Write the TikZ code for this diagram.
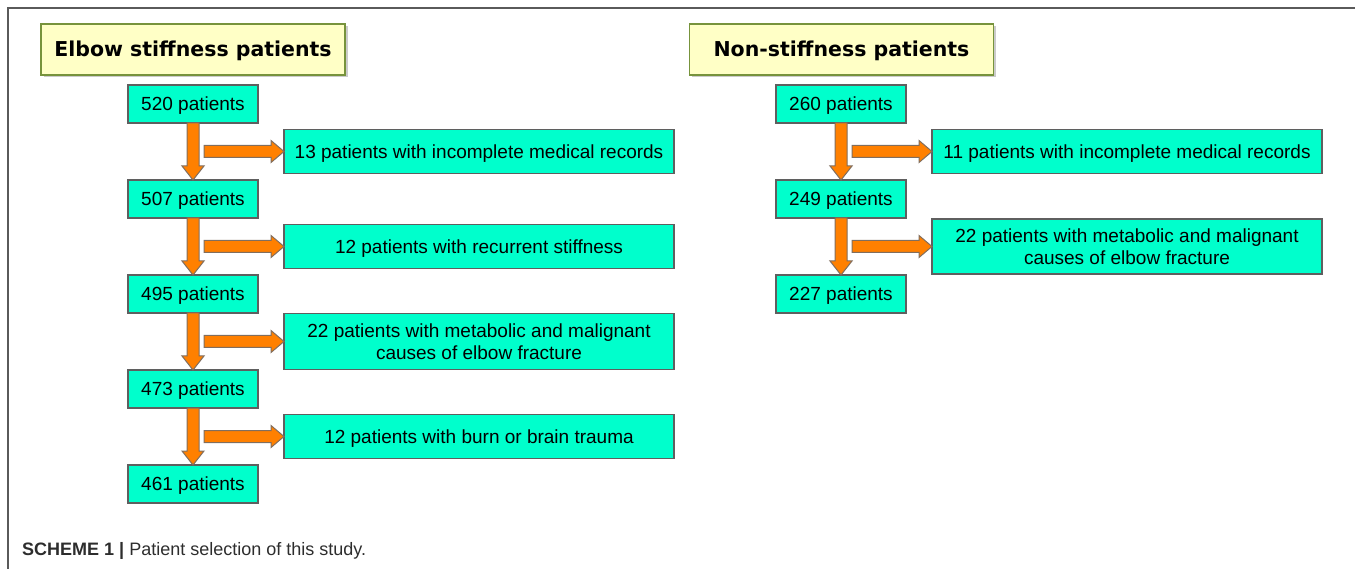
\documentclass[tikz,border=0pt]{standalone}
\usepackage{fontspec}
\setmainfont{Liberation Sans}
\newfontfamily\headfont{DejaVu Sans}
\usepackage{tikz}
\usetikzlibrary{positioning, calc, shadows}
\definecolor{boxfill}{RGB}{0,255,204}
\definecolor{boxedge}{RGB}{95,95,95}
\definecolor{headfill}{RGB}{255,255,198}
\definecolor{headedge}{RGB}{119,147,60}
\definecolor{arrowfill}{RGB}{255,128,0}
\definecolor{arrowedge}{RGB}{128,110,95}
\definecolor{framegray}{RGB}{90,90,90}
\definecolor{captiongray}{RGB}{45,45,45}

\begin{document}
\begin{tikzpicture}[x=1pt, y=-1pt, node distance=57pt,
  head/.style = {draw=headedge, fill=headfill, line width=1.2pt, minimum width=304pt, minimum height=51pt, outer sep=0pt,
    text height=15pt, text depth=0pt,
    drop shadow={shadow xshift=2.5pt, shadow yshift=-2.5pt, fill=black!45, opacity=0.45},
    font=\headfont\bfseries\fontsize{20.5}{24}\selectfont},
  count/.style = {draw=boxedge, fill=boxfill, line width=1.2pt, minimum width=130pt, minimum height=38pt, outer sep=0pt,
    text height=13.6pt, text depth=0pt, font=\fontsize{19}{22.5}\selectfont},
  excl/.style = {count, minimum width=390pt, minimum height=44pt, align=center},
  twoline/.style = {text height=36.1pt},
  downarrow/.style = {draw=arrowedge, fill=arrowfill, line width=1pt,
    to path={let \p1=(\tikztostart), \p2=(\tikztotarget) in
      (\x1-6pt,\y1) -- (\x1+6pt,\y1) -- (\x1+6pt,\y2+14pt) -- (\x1+11pt,\y2+14pt) -- (\x1,\y2)
      -- (\x1-11pt,\y2+14pt) -- (\x1-6pt,\y2+14pt) -- cycle}},
  sidearrow/.style = {draw=arrowedge, fill=arrowfill, line width=1pt,
    to path={let \p1=(\tikztostart), \p2=(\tikztotarget) in
      (\x1+11pt,\y2-6pt) -- (\x2-13pt,\y2-6pt) -- (\x2-13pt,\y2-11pt) -- (\x2,\y2) -- (\x2-13pt,\y2+11pt)
      -- (\x2-13pt,\y2+6pt) -- (\x1+11pt,\y2+6pt) -- cycle}}]
  \useasboundingbox (0,0) rectangle (1355,569);

  % Frame
  \draw[framegray, line width=1.5pt] (1355,8) -- (8,8) -- (8,569);

  % Headers
  \node[head] (hElbow) at (193,49.5) {Elbow stiffness patients};
  \node[head] (hNon) at (841.5,49.5) {Non-stiffness patients};

  % Elbow stiffness column
  \node[count] (e520) at (193,104) {520 patients};
  \node[count] (e507) [below=of e520] {507 patients};
  \node[count] (e495) [below=of e507] {495 patients};
  \node[count] (e473) [below=of e495] {473 patients};
  \node[count] (e461) [below=of e473] {461 patients};

  \node[excl] (eRecords) at ($(e520)!0.5!(e507)+(286,0)$) {13 patients with incomplete medical records};
  \node[excl] (eRecurrent) at ($(e507)!0.5!(e495)+(286,0)$) {12 patients with recurrent stiffness};
  \node[excl, twoline, minimum height=56pt] (eCauses) at ($(e495)!0.5!(e473)+(286,0)$) {22 patients with metabolic and malignant\\causes of elbow fracture};
  \node[excl] (eTrauma) at ($(e473)!0.5!(e461)+(286,0)$) {12 patients with burn or brain trauma};

  % Non-stiffness column
  \node[count] (n260) at (841,104) {260 patients};
  \node[count] (n249) [below=of n260] {249 patients};
  \node[count] (n227) [below=of n249] {227 patients};

  \node[excl] (nRecords) at ($(n260)!0.5!(n249)+(286,0)$) {11 patients with incomplete medical records};
  \node[excl, twoline, minimum height=55pt] (nCauses) at ($(n249)!0.5!(n227)+(286,0)$) {22 patients with metabolic and malignant\\causes of elbow fracture};

  % Arrows
  \draw[downarrow] (e520.south) to (e507.north);
  \draw[downarrow] (e507.south) to (e495.north);
  \draw[downarrow] (e495.south) to (e473.north);
  \draw[downarrow] (e473.south) to (e461.north);
  \draw[sidearrow] (e520.south) to (eRecords.west);
  \draw[sidearrow] (e507.south) to (eRecurrent.west);
  \draw[sidearrow] (e495.south) to (eCauses.west);
  \draw[sidearrow] (e473.south) to (eTrauma.west);

  \draw[downarrow] (n260.south) to (n249.north);
  \draw[downarrow] (n249.south) to (n227.north);
  \draw[sidearrow] (n260.south) to (nRecords.west);
  \draw[sidearrow] (n249.south) to (nCauses.west);

  % Caption
  \node[anchor=base west, inner sep=0pt, text=captiongray, font=\fontsize{18}{21}\selectfont] (caption) at (22,555)
    {\textbf{SCHEME 1 |} Patient selection of this study.};
\end{tikzpicture}
\end{document}
